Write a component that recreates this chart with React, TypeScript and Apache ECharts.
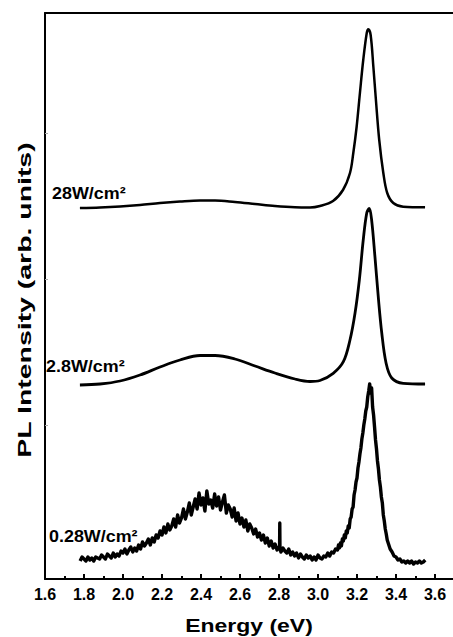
import React, { useEffect, useRef } from "react";
import * as echarts from "echarts";

// x axis (Energy, eV)
const xMin = 1.6;
const xMax = 3.7;
const xInterval = 0.2;
// y positions (arb. units) of the faint ticks on the intensity axis
const yTickValues = [154, 300, 446];
const yMax = 566;

const curveLabels = ["28W/cm\u00b2", "2.8W/cm\u00b2", "0.28W/cm\u00b2"];

// 28 W/cm2 spectrum: [energy eV, intensity arb.]
const spectrum28: [number, number][] = [
  [1.779, 371], [1.882, 371.5], [1.985, 372.5], [2.087, 374], [2.19, 376],
  [2.292, 377.5], [2.395, 378.5], [2.472, 378.5], [2.574, 377], [2.677, 375],
  [2.779, 373], [2.882, 371.7], [2.959, 371.5], [3.01, 373], [3.077, 378],
  [3.128, 389], [3.164, 406], [3.181, 426], [3.198, 452], [3.215, 486],
  [3.232, 519], [3.25, 546], [3.258, 549.7], [3.27, 544], [3.284, 512],
  [3.297, 479], [3.314, 439], [3.335, 406], [3.355, 386], [3.386, 376],
  [3.437, 372.3], [3.549, 371.7],
];

// 2.8 W/cm2 spectrum
const spectrum2p8: [number, number][] = [
  [1.779, 194], [1.882, 195], [1.985, 198], [2.087, 204], [2.19, 212],
  [2.292, 219], [2.395, 223.5], [2.472, 223.5], [2.574, 220], [2.677, 213],
  [2.779, 206], [2.882, 200], [2.959, 197.5], [3.01, 198.5], [3.078, 205.7],
  [3.13, 217.3], [3.164, 239], [3.19, 266], [3.212, 299], [3.232, 339],
  [3.25, 366], [3.263, 370.7], [3.275, 359], [3.292, 322.3], [3.309, 282.3],
  [3.327, 246], [3.349, 216], [3.378, 201], [3.437, 195.7], [3.549, 195],
];

// 0.28 W/cm2 spectrum (noisy) – band sampled every 0.01 eV from 1.78 eV
const lowBandStart = 1.78;
const lowBandStep = 0.01;
const lowBand = [
  18, 22, 20, 18, 22, 19, 21, 18, 22, 21,
  20, 24, 22, 20, 25, 23, 21, 26, 22, 25,
  23, 28, 26, 30, 25, 29, 32, 27, 31, 28,
  34, 30, 37, 33, 36, 40, 34, 41, 37, 44,
  41, 48, 44, 52, 46, 55, 49, 53, 60, 52,
  64, 56, 61, 70, 60, 67, 76, 64, 72, 80,
  70, 86, 74, 81, 68, 88, 75, 79, 71, 85,
  73, 82, 69, 77, 84, 66, 74, 70, 62, 71,
  58, 66, 55, 61, 52, 59, 48, 55, 51, 45,
  50, 42, 46, 39, 44, 36, 41, 33, 38, 31,
  35, 29, 32, 27, 31, 28, 26, 30, 24, 27,
  23, 26, 21, 25, 22, 20, 24, 21, 23, 19,
  22, 19, 24, 21, 20, 23, 22, 26, 23, 27,
  26, 30,
];
const lowSpike: [number, number][] = [[2.803, 33], [2.804, 56], [2.805, 31]];
const lowPeak: [number, number][] = [
  [3.1, 29], [3.105, 34], [3.11, 31], [3.115, 36], [3.12, 33], [3.125, 40],
  [3.13, 38], [3.135, 44], [3.14, 41], [3.145, 48], [3.15, 46], [3.155, 53],
  [3.16, 51], [3.165, 60], [3.17, 62], [3.175, 70], [3.18, 72], [3.185, 84],
  [3.19, 89], [3.195, 97], [3.2, 101], [3.205, 111], [3.21, 117], [3.215, 125],
  [3.22, 131], [3.225, 140], [3.23, 146], [3.235, 154], [3.24, 160], [3.245, 168],
  [3.25, 172], [3.255, 182], [3.26, 188], [3.265, 195], [3.27, 186], [3.275, 191],
  [3.28, 172], [3.285, 164], [3.29, 152], [3.295, 139], [3.3, 130], [3.305, 118],
  [3.31, 110], [3.315, 99], [3.32, 92], [3.325, 82], [3.33, 76], [3.335, 64],
  [3.34, 58], [3.345, 50], [3.35, 45], [3.355, 39], [3.36, 36], [3.37, 30],
  [3.38, 27], [3.39, 23], [3.4, 22], [3.41, 19], [3.42, 20], [3.43, 17],
  [3.44, 18], [3.45, 16], [3.46, 18], [3.47, 16], [3.48, 18], [3.49, 15],
  [3.5, 17], [3.51, 16], [3.52, 18], [3.53, 16], [3.54, 17], [3.55, 19],
];

function buildLow(): [number, number][] {
  const pts: [number, number][] = lowBand.map((v, i) => [
    +(lowBandStart + i * lowBandStep).toFixed(3),
    v,
  ]);
  const all = pts.concat(lowSpike, lowPeak);
  all.sort((a, b) => a[0] - b[0]);
  return all;
}

const FONT = "'Liberation Sans', Arial, Helvetica, sans-serif";

export default function App() {
  const ref = useRef<HTMLDivElement>(null);

  useEffect(() => {
    if (!ref.current) return;
    const chart = echarts.init(ref.current, null, { renderer: "svg" });
    const lineBase = { type: "line", showSymbol: false, symbol: "none", silent: true };
    chart.setOption({
      animation: false,
      backgroundColor: "#ffffff",
      grid: { left: 45, top: 13, width: 409.5, bottom: 58, outerBoundsMode: "none", containLabel: false },
      xAxis: [
        {
          type: "value",
          min: xMin,
          max: xMax,
          interval: xInterval,
          axisLine: { show: true, onZero: false, lineStyle: { color: "#000", width: 2 } },
          axisTick: { show: true, inside: true, length: 5, lineStyle: { color: "#000", width: 2 } },
          minorTick: { show: true, splitNumber: 2, length: 3, lineStyle: { color: "#000", width: 2 } },
          splitLine: { show: false },
          minorSplitLine: { show: false },
          showMaxLabel: false,
          axisLabel: {
            show: true,
            margin: 7,
            color: "#000",
            fontSize: 16,
            fontWeight: "bold",
            fontFamily: FONT,
            formatter: (v: number) => {
              const k = Math.round(v / xInterval);
              return Math.abs(k * xInterval - v) < 1e-6 ? v.toFixed(1) : "";
            },
          },
        },
        {
          type: "value",
          position: "top",
          min: xMin,
          max: xMax,
          axisLine: { show: true, onZero: false, lineStyle: { color: "#000", width: 2 } },
          axisTick: { show: false },
          axisLabel: { show: false },
          splitLine: { show: false },
        },
      ],
      yAxis: {
        type: "value",
        min: 0,
        max: yMax,
        axisLine: { show: true, onZero: false, lineStyle: { color: "#000", width: 2 } },
        axisTick: {
          show: true,
          inside: true,
          length: 3,
          customValues: yTickValues,
          lineStyle: { color: "#aaaaaa", width: 1 },
        },
        axisLabel: { show: false },
        splitLine: { show: false },
      },
      series: [
        { ...lineBase, name: curveLabels[0], data: spectrum28, smooth: 0.35, lineStyle: { color: "#000", width: 2.5 } },
        { ...lineBase, name: curveLabels[1], data: spectrum2p8, smooth: 0.35, lineStyle: { color: "#000", width: 2.8 } },
        { ...lineBase, name: curveLabels[2], data: buildLow(), smooth: false, lineStyle: { color: "#000", width: 3.4, join: "round" } },
      ],
      graphic: [
        {
          type: "text",
          x: 25,
          y: 300,
          rotation: Math.PI / 2,
          scaleX: 1.58,
          style: {
            text: "PL Intensity (arb. units)",
            font: `bold 18px ${FONT}`,
            fill: "#000",
            textAlign: "center",
            textVerticalAlign: "middle",
          },
        },
        {
          type: "text",
          x: 249,
          y: 625,
          scaleX: 1.21,
          style: {
            text: "Energy (eV)",
            font: `bold 19px ${FONT}`,
            fill: "#000",
            textAlign: "center",
            textVerticalAlign: "middle",
          },
        },
        {
          type: "text",
          x: 52,
          y: 193.5,
          scaleX: 1.12,
          style: { text: curveLabels[0], font: `bold 16px ${FONT}`, fill: "#000", textAlign: "left", textVerticalAlign: "middle" },
        },
        {
          type: "text",
          x: 46,
          y: 366.5,
          scaleX: 1.12,
          style: { text: curveLabels[1], font: `bold 16px ${FONT}`, fill: "#000", textAlign: "left", textVerticalAlign: "middle" },
        },
        {
          type: "text",
          x: 49,
          y: 536.5,
          scaleX: 1.12,
          style: { text: curveLabels[2], font: `bold 16px ${FONT}`, fill: "#000", textAlign: "left", textVerticalAlign: "middle" },
        },
      ],
    });
    return () => chart.dispose();
  }, []);

  return <div ref={ref} style={{ width: 453, height: 637, position: "absolute", left: 0, top: 0 }} />;
}
